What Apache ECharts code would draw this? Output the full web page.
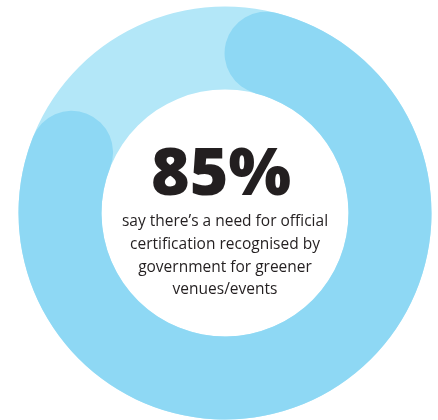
<!DOCTYPE html>
<html>
<head>
<meta charset="utf-8">
<script src="https://cdn.jsdelivr.net/npm/echarts@6/dist/echarts.min.js"></script>
<style>
  html, body { margin: 0; padding: 0; background: #ffffff; }
  #chart { width: 438px; height: 420px; }
</style>
</head>
<body>
<div id="chart"></div>
<script>
// ---- data ----
const shareValue = 85;          // percent who agree
const shareMax = 100;
const shareLabel = 'say there’s a need for official\ncertification recognised by\ngovernment for greener\nvenues/events';

// ---- geometry / style ----
const centerX = 225, centerY = 213;
const outerR = 206.5;
const ringW = 83;
const trackColor = '#b3e7f8';
const barColor = '#8ed8f4';
const textColor = '#231f20';

// round caps extend beyond the arc ends; include them in the visual 85%
const capDeg = ((ringW / 2) / (outerR - ringW / 2)) * 180 / Math.PI;
const startA = 90 - capDeg;
const span = 360 - 2 * capDeg * shareMax / shareValue;

const chart = echarts.init(document.getElementById('chart'), null, { renderer: 'canvas' });
chart.setOption({
  backgroundColor: '#ffffff',
  animation: false,
  series: [
    {
      type: 'gauge',
      center: [centerX, centerY],
      radius: outerR,
      startAngle: 90,
      endAngle: -270,
      min: 0,
      max: shareMax,
      axisLine: { lineStyle: { width: ringW, color: [[1, trackColor]] } },
      pointer: { show: false },
      axisTick: { show: false },
      splitLine: { show: false },
      axisLabel: { show: false },
      title: { show: false },
      detail: { show: false },
      data: [{ value: 0 }]
    },
    {
      type: 'gauge',
      center: [centerX, centerY],
      radius: outerR,
      startAngle: startA,
      endAngle: startA - span,
      min: 0,
      max: shareMax,
      progress: { show: true, roundCap: true, width: ringW, itemStyle: { color: barColor } },
      axisLine: { show: false, lineStyle: { width: ringW } },
      pointer: { show: false },
      axisTick: { show: false },
      splitLine: { show: false },
      axisLabel: { show: false },
      title: {
        show: true,
        offsetCenter: [0, 43],
        color: textColor,
        fontSize: 15.5,
        lineHeight: 22.7,
        fontFamily: 'Open Sans',
        fontWeight: 'normal'
      },
      detail: {
        show: true,
        offsetCenter: [-4, -37],
        formatter: '{value}%',
        color: textColor,
        fontSize: 66,
        fontWeight: 800,
        fontFamily: 'Open Sans'
      },
      data: [{ value: shareValue, name: shareLabel }]
    }
  ]
});
</script>
</body>
</html>
